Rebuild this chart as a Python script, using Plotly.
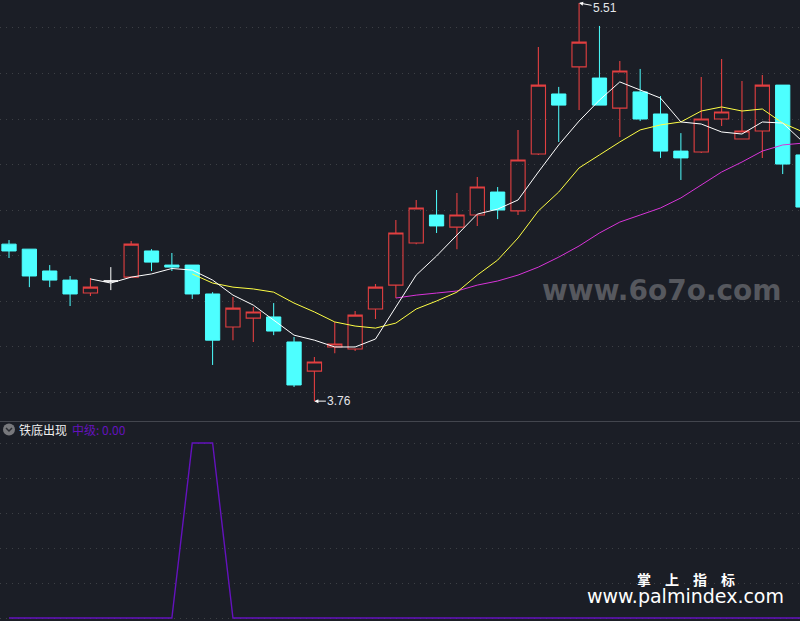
import plotly.graph_objects as go

DAY = list(range(40))
OPEN = [4.450,4.428,4.332,4.292,4.235,None,4.305,4.420,4.358,4.358,4.231,4.086,4.125,4.130,4.020,3.892,3.998,3.989,4.165,4.270,
        4.455,4.578,4.525,4.578,4.679,4.596,4.846,5.110,5.229,5.180,5.048,5.119,5.022,4.859,4.855,5.000,4.912,4.947,5.149,4.842]
HIGH = [4.468,4.428,4.358,4.310,4.301,None,4.464,4.428,4.411,4.358,4.239,4.218,4.174,4.191,4.042,3.954,4.108,4.156,4.275,4.556,
        4.644,4.688,4.675,4.745,4.701,4.952,5.316,5.141,5.510,5.409,5.255,5.220,5.101,4.938,5.185,5.264,5.167,5.193,5.149,4.842]
LOW = [4.389,4.261,4.261,4.178,4.222,None,4.305,4.332,4.332,4.209,3.919,4.028,4.020,4.050,3.822,3.760,3.971,3.980,4.121,4.213,
       4.450,4.499,4.428,4.530,4.560,4.578,4.842,4.899,5.039,5.061,4.921,4.991,4.829,4.732,4.851,4.969,4.912,4.829,4.758,4.613]
CLOSE = [4.420,4.310,4.292,4.231,4.261,None,4.450,4.371,4.349,4.231,4.028,4.169,4.152,4.068,3.831,3.932,4.011,4.138,4.261,4.499,
         4.609,4.530,4.578,4.701,4.600,4.820,5.149,5.061,5.338,5.061,5.211,5.000,4.859,4.829,5.000,5.031,4.947,5.149,4.802,4.613]
DOJI_DAY = [5]
DOJI_OPEN = [4.288]
DOJI_HIGH = [4.349]
DOJI_LOW = [4.248]
DOJI_CLOSE = [4.288]
MA5 = [None]*4 + [4.297,4.279,4.305,4.319,4.343,4.336,4.292,4.226,4.182,4.116,4.050,4.028,3.998,3.998,4.033,4.174,4.314,4.398,
                  4.490,4.582,4.604,4.644,4.767,4.886,4.991,5.083,5.163,5.127,5.092,4.987,4.978,4.943,4.934,4.987,4.982,4.899]
MA10 = [None]*9 + [4.319,4.279,4.261,4.253,4.239,4.191,4.152,4.108,4.090,4.081,4.103,4.165,4.200,4.239,4.314,4.380,4.477,4.596,
                   4.679,4.785,4.842,4.899,4.952,4.974,4.987,5.035,5.053,5.035,5.044,4.982,4.943]
MA20 = [None]*19 + [4.213,4.226,4.235,4.244,4.270,4.288,4.314,4.349,4.393,4.442,4.499,4.547,4.578,4.609,4.653,4.710,4.767,4.811,
                    4.859,4.886,4.894]
SIGNAL = [0]*9 + [100,100] + [0]*29
LOW_LABEL = "3.76"
HIGH_LABEL = "5.51"
TITLE = "铁底出现"
SIGNAL_LABEL = "中级: 0.00"

BG = "#1b1e26"
GRID = "#3d4045"
RED = "#e23f40"
CYAN = "#4dffff"
PURPLE = "#6412bd"
H = 621
DIV = 421.5
CJK = "Noto Sans CJK SC"

fig = go.Figure()
fig.add_trace(go.Candlestick(
    x=DAY, open=OPEN, high=HIGH, low=LOW, close=CLOSE, whiskerwidth=0,
    increasing=dict(line=dict(color=RED, width=1.1), fillcolor="rgba(0,0,0,0)"),
    decreasing=dict(line=dict(color=CYAN, width=1), fillcolor=CYAN),
    xaxis="x", yaxis="y", showlegend=False))
fig.add_trace(go.Candlestick(
    x=DOJI_DAY + [DAY[-1] + 1], open=DOJI_OPEN + [None], high=DOJI_HIGH + [None],
    low=DOJI_LOW + [None], close=DOJI_CLOSE + [None], whiskerwidth=0,
    increasing=dict(line=dict(color="#ffffff", width=1), fillcolor="#ffffff"),
    decreasing=dict(line=dict(color="#ffffff", width=1), fillcolor="#ffffff"),
    xaxis="x", yaxis="y", showlegend=False))
for vals, col in [(MA20, "#d934d9"), (MA10, "#ffff45"), (MA5, "#ffffff")]:
    fig.add_trace(go.Scatter(x=DAY, y=vals, mode="lines", line=dict(color=col, width=1),
                             xaxis="x", yaxis="y", showlegend=False))
fig.add_trace(go.Scatter(x=DAY, y=SIGNAL, mode="lines", line=dict(color=PURPLE, width=1.4),
                         xaxis="x2", yaxis="y2", showlegend=False))

def label(text, x, y, size, color, font=CJK, anchor="left"):
    return dict(text=text, xref="paper", yref="paper", x=x/800, y=1-y/H, showarrow=False,
                xanchor=anchor, yanchor="middle", font=dict(size=size, color=color, family=font))

annotations = [
    dict(text=LOW_LABEL, x=15, y=3.76, xref="x", yref="y", ax=25, ay=0, axref="pixel", ayref="pixel",
         showarrow=True, arrowhead=2, arrowsize=0.8, arrowwidth=1, arrowcolor="#ffffff",
         font=dict(size=12, color="#e4e6ea", family="Liberation Sans")),
    dict(text=HIGH_LABEL, x=28, y=5.51, xref="x", yref="y", ax=26, ay=5, axref="pixel", ayref="pixel",
         showarrow=True, arrowhead=2, arrowsize=0.8, arrowwidth=1, arrowcolor="#ffffff",
         font=dict(size=12, color="#e4e6ea", family="Liberation Sans")),
    label(TITLE, 17, 429.5, 12, "#f0f0f0"),
    label(SIGNAL_LABEL, 70, 429.5, 12, PURPLE),
    label("<b>www.6o7o.com</b>", 661.5, 290, 28, "#56585e", "DejaVu Sans", "center"),
    label("<b>掌　上　指　标</b>", 686, 578.5, 14, "#ffffff", CJK, "center"),
    label("www.palmindex.com", 685, 596, 19, "#ffffff", "DejaVu Sans", "center"),
]

def px(x):
    return x/800
def py(y):
    return 1-y/H

shapes = [
    dict(type="line", xref="paper", yref="paper", x0=0, x1=1, y0=py(DIV), y1=py(DIV),
         line=dict(color="#43464e", width=1)),
    dict(type="circle", xref="paper", yref="paper", x0=px(3), x1=px(15), y0=py(435.5), y1=py(423.5),
         fillcolor="#77787c", line=dict(width=0)),
    dict(type="path", xref="paper", yref="paper",
         path=f"M {px(6)} {py(428)} L {px(9)} {py(431)} L {px(12)} {py(428)}",
         line=dict(color="#2a2c32", width=1.5)),
]

fig.update_layout(
    width=800, height=H, margin=dict(l=0, r=0, t=0, b=0),
    paper_bgcolor=BG, plot_bgcolor=BG, showlegend=False, boxgap=0, boxgroupgap=0.3,
    annotations=annotations, shapes=shapes,
    xaxis=dict(domain=[0, 1], range=[-0.442, 38.85], visible=False, rangeslider=dict(visible=False)),
    xaxis2=dict(domain=[0, 1], range=[-0.442, 38.85], visible=False, anchor="y2"),
    yaxis=dict(domain=[1-DIV/H, 1], range=[3.6705, 5.523], tick0=3.8, dtick=0.2, showticklabels=False,
               showgrid=True, gridcolor=GRID, griddash="1px,5px", gridwidth=1, zeroline=False, ticks=""),
    yaxis2=dict(domain=[0, 1-DIV/H], range=[-1.7, 112.3], tick0=0, dtick=20, showticklabels=False,
                showgrid=True, gridcolor=GRID, griddash="1px,5px", gridwidth=1, zeroline=False, ticks="",
                anchor="x2"),
)
fig.write_html("out.html", config=dict(displayModeBar=False),
               post_script=f"document.body.style.margin='0';document.body.style.background='{BG}';document.documentElement.style.overflow='hidden';")
